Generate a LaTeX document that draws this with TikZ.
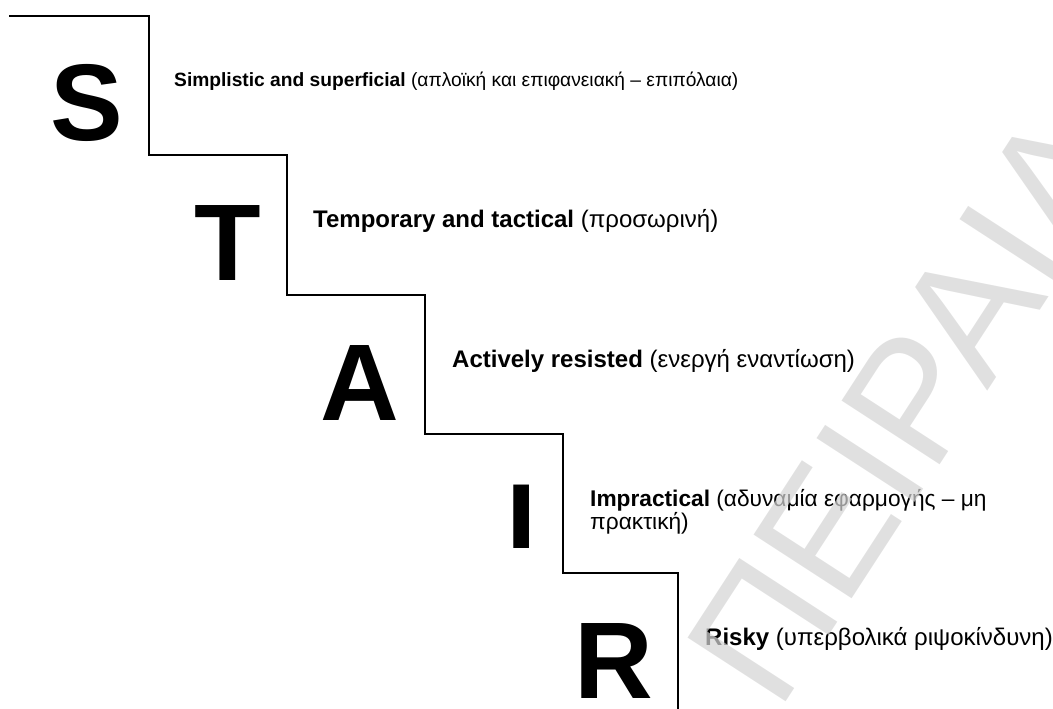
\documentclass[tikz,border=0pt]{standalone}
\usepackage{fontspec}
\setmainfont{Liberation Sans}
\begin{document}
\begin{tikzpicture}[x=1pt,y=-1pt,
  stair/.style={line width=1.6pt,line cap=rect,line join=miter},
  bigletter/.style={font=\fontsize{109}{109}\selectfont\bfseries,inner sep=0pt,anchor=base},
  label/.style={font=\fontsize{24}{23}\selectfont,inner sep=0pt,anchor=base west,align=left},
  wmark/.style={font=\fontsize{170}{170}\selectfont,text=black!17,text opacity=0.71,
                inner sep=0pt,anchor=base west,rotate=57}]
  \useasboundingbox (0,0) rectangle (1053,709);

  % corner points of the staircase
  \coordinate (c0) at (10,16);
  \coordinate (c1) at (149,155);
  \coordinate (c2) at (287,295);
  \coordinate (c3) at (425,434);
  \coordinate (c4) at (563,573);
  \coordinate (c5) at (678,709);
  \draw[stair] (c0) -| (c1) -| (c2) -| (c3) -| (c4) -| (c5);

  % initials
  \node[bigletter] (S) at (86.5,140) {S};
  \node[bigletter] (T) at (228,280) {T};
  \node[bigletter] (A) at (360,420) {A};
  \node[bigletter] (I) at (521.5,548) {\scalebox{1}[0.846]{I}};
  \node[bigletter] (R) at (613.5,698) {R};

  % descriptions
  \node[label,font=\fontsize{19.2}{23}\selectfont] (tS) at (174,87)
    {\textbf{Simplistic and superficial} (απλοϊκή και επιφανειακή – επιπόλαια)};
  \node[label] (tT) at (313,227) {\textbf{Temporary and tactical} (προσωρινή)};
  \node[label] (tA) at (452,367) {\textbf{Actively resisted} (ενεργή εναντίωση)};
  \node[label,font=\fontsize{22.7}{23}\selectfont] (tI) at (590,529)
    {\textbf{Impractical} (αδυναμία εφαρμογής – μη\\πρακτική)};
  \node[label] (tR) at (705,645) {\textbf{Risky} (υπερβολικά ριψοκίνδυνη)};

  % watermark
  \node[wmark] (wm) at (778,714) {ΠΕΙΡΑΙΑ};
\end{tikzpicture}
\end{document}
